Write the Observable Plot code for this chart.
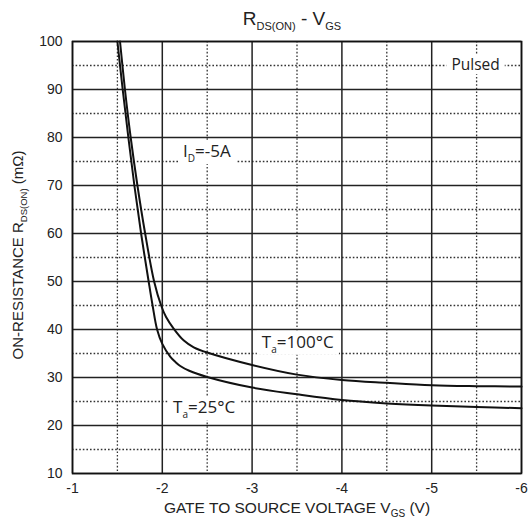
<!DOCTYPE html>
<html>
<head>
<meta charset="utf-8">
<script src="https://cdn.jsdelivr.net/npm/d3@7"></script>
<script src="https://cdn.jsdelivr.net/npm/@observablehq/plot@0.6"></script>
<style>
  html, body { margin: 0; padding: 0; background: white; }
</style>
</head>
<body>
<div id="chart"></div>
<script>
// ---- data ----
const xTicks = [-1, -2, -3, -4, -5, -6];
const xMinor = [-1.5, -2.5, -3.5, -4.5, -5.5];
const yTicks = [10, 20, 30, 40, 50, 60, 70, 80, 90, 100];
const yMinor = [15, 25, 35, 45, 55, 65, 75, 85, 95];

// Ta = 25°C
const vgs25 = [-1.50, -1.559, -1.622, -1.689, -1.764, -1.848, -1.892, -1.942, -2.0, -2.09, -2.148, -2.2, -2.3, -2.5, -3.0, -3.5, -4.0, -4.5, -5.0, -5.5, -6.0];
const rds25 = [100, 90, 80, 70, 60, 50, 45, 40, 37, 34.3, 33.2, 32.4, 31.4, 30.1, 27.9, 26.5, 25.3, 24.6, 24.15, 23.85, 23.6];
// Ta = 100°C
const vgs100 = [-1.529, -1.584, -1.648, -1.723, -1.809, -1.909, -1.987, -2.042, -2.126, -2.24, -2.35, -2.5, -3.0, -3.5, -4.0, -4.5, -5.0, -5.5, -6.0];
const rds100 = [100, 90, 80, 70, 60, 50, 45, 42.6, 40.2, 37.7, 36.3, 35.2, 32.6, 30.6, 29.5, 28.9, 28.4, 28.2, 28.1];

// annotations: main text, subscript, rest, anchor V, anchor R
const annMain = ["I", "T", "T", "Pulsed"];
const annSub = ["D", "a", "a", ""];
const annRest = ["=-5A", "=100°C", "=25°C", ""];
const annV = [-2.237, -3.114, -2.126, -5.225];
const annR = [75.8, 36.1, 22.4, 93.9];

const d25 = vgs25.map((v, i) => ({v, r: rds25[i]}));
const d100 = vgs100.map((v, i) => ({v, r: rds100[i]}));

const chart = Plot.plot({
  width: 529,
  height: 522,
  marginLeft: 72,
  marginRight: 8,
  marginTop: 41,
  marginBottom: 49,
  style: {fontFamily: "'Liberation Sans', Arial, sans-serif", fontSize: "14px", background: "white", color: "#222"},
  x: {domain: [-1, -6], label: null},
  y: {domain: [10, 100], label: null},
  marks: [
    Plot.ruleX(xMinor, {stroke: "#333", strokeWidth: 1.3, strokeDasharray: "1.6,2"}),
    Plot.ruleY(yMinor, {stroke: "#333", strokeWidth: 1.3, strokeDasharray: "1.6,2"}),
    Plot.ruleX(xTicks, {stroke: "#222", strokeWidth: 1.5}),
    Plot.ruleY(yTicks, {stroke: "#222", strokeWidth: 1.5}),
    Plot.frame({stroke: "#111", strokeWidth: 1.6}),
    Plot.line(d25, {x: "v", y: "r", curve: "catmull-rom", stroke: "#111", strokeWidth: 2}),
    Plot.line(d100, {x: "v", y: "r", curve: "catmull-rom", stroke: "#111", strokeWidth: 2}),
    Plot.axisX({ticks: xTicks, tickSize: 0, tickPadding: 10, tickFormat: d => String(d), label: null, fontSize: 14}),
    Plot.axisY({ticks: yTicks, tickSize: 0, tickPadding: 10, tickFormat: d => String(d), label: null, fontSize: 14})
  ]
});

document.getElementById("chart").appendChild(chart);

const sx = chart.scale("x"), sy = chart.scale("y");
const svg = d3.select(chart);
const fam = "'Liberation Sans', Arial, sans-serif";

// title
const title = svg.append("text")
  .attr("x", 292).attr("y", 25)
  .attr("text-anchor", "middle")
  .attr("font-family", fam).attr("font-size", 19).attr("fill", "#222");
title.append("tspan").text("R");
title.append("tspan").attr("font-size", 11).attr("dy", 5).text("DS(ON)");
title.append("tspan").attr("dy", -5).text(" - V");
title.append("tspan").attr("font-size", 11).attr("dy", 5).text("GS");

// x label
const xl = svg.append("text")
  .attr("x", 297).attr("y", 513)
  .attr("text-anchor", "middle")
  .attr("font-family", fam).attr("font-size", 15.5).attr("fill", "#222");
xl.append("tspan").text("GATE TO SOURCE VOLTAGE V");
xl.append("tspan").attr("font-size", 10).attr("dy", 4).text("GS");
xl.append("tspan").attr("dy", -4).text(" (V)");

// y label
const yl = svg.append("text")
  .attr("transform", "translate(23,255) rotate(-90)")
  .attr("text-anchor", "middle")
  .attr("font-family", fam).attr("font-size", 15).attr("fill", "#222");
yl.append("tspan").text("ON-RESISTANCE R");
yl.append("tspan").attr("font-size", 9.5).attr("dy", 4).text("DS(ON)");
yl.append("tspan").attr("dy", -4).text(" (mΩ)");

// annotations with white boxes
annMain.forEach((m, i) => {
  const g = svg.append("g");
  const t = g.append("text")
    .attr("x", sx.apply(annV[i])).attr("y", sy.apply(annR[i]))
    .attr("text-anchor", "start")
    .attr("font-family", "'Open Sans', 'Noto Sans', sans-serif")
    .attr("font-size", i === 3 ? 15.5 : 17).attr("fill", "#222");
  t.append("tspan").text(m);
  if (annSub[i]) {
    t.append("tspan").attr("font-size", 10).attr("dy", 5).text(annSub[i]);
    t.append("tspan").attr("dy", -5).text(annRest[i]);
  }
  const bb = t.node().getBBox();
  g.insert("rect", "text")
    .attr("x", bb.x - 5).attr("y", bb.y + 1)
    .attr("width", bb.width + 10).attr("height", bb.height - 2)
    .attr("fill", "white");
});
</script>
</body>
</html>
